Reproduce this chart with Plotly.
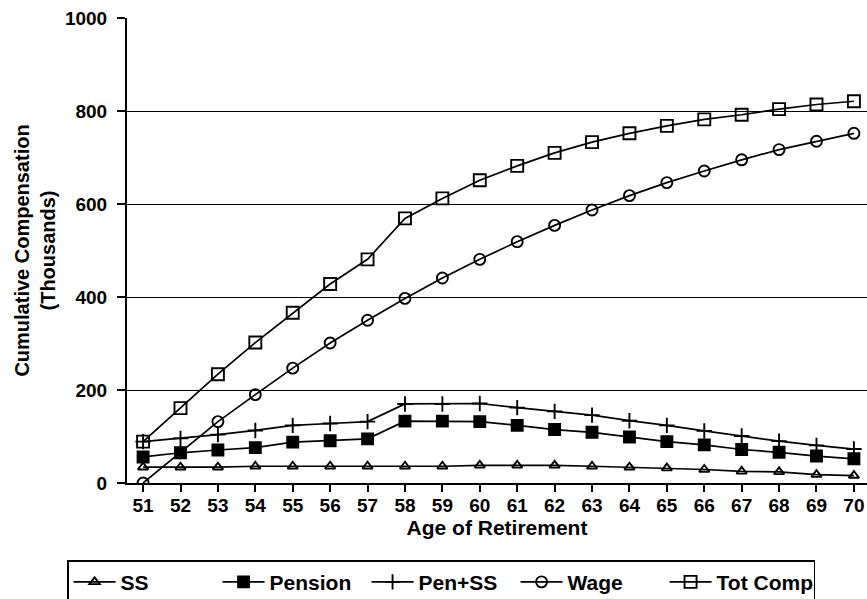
import plotly.graph_objects as go

ages = list(range(51, 71))
ss = [34, 34, 34, 36, 36, 36, 36, 36, 36, 38, 38, 38, 36, 34, 32, 29, 25, 24, 18, 16]
pension = [56, 65, 71, 76, 88, 91, 95, 133, 133, 132, 124, 115, 109, 99, 89, 82, 72, 66, 58, 52]
pen_ss = [89, 96, 104, 113, 124, 128, 132, 170, 170, 171, 162, 154, 146, 134, 124, 112, 101, 90, 81, 73]
wage = [0, 65, 132, 190, 247, 301, 350, 397, 441, 481, 519, 554, 587, 618, 646, 671, 695, 717, 735, 752]
tot_comp = [89, 161, 234, 302, 366, 428, 481, 569, 612, 651, 682, 710, 733, 752, 768, 782, 792, 804, 814, 821]
y_ticks = [0, 200, 400, 600, 800, 1000]

series_names = ["SS", "Pension", "Pen+SS", "Wage", "Tot Comp"]
series_vals = [ss, pension, pen_ss, wage, tot_comp]
symbols = ["triangle-up-open", "square", "cross-thin", "circle-open", "square-open"]
sizes = [9, 11, 11, 11, 12]

FONT = "Liberation Sans, Arial, sans-serif"

fig = go.Figure()
for name, vals, sym, sz in zip(series_names, series_vals, symbols, sizes):
    fig.add_trace(go.Scatter(
        x=ages, y=vals, name=name, mode="lines+markers",
        line=dict(color="black", width=1.7),
        marker=dict(symbol=sym, size=sz, color="black",
                    line=dict(color="black", width=1.9)),
    ))

fig.update_layout(
    width=867, height=599,
    margin=dict(l=127, r=0, t=18, b=116, autoexpand=False),
    paper_bgcolor="white", plot_bgcolor="white",
    font=dict(family=FONT, size=19, color="black", weight="bold"),
    showlegend=True,
    legend=dict(
        orientation="h", x=-0.081, xanchor="left", y=-0.166, yanchor="top",
        bordercolor="black", borderwidth=1.5, bgcolor="white",
        entrywidth=92, entrywidthmode="pixels",
        font=dict(family=FONT, size=21, color="black", weight="bold"),
        tracegroupgap=0, itemwidth=42,
    ),
)
fig.update_xaxes(
    range=[50.57, 70.35], tickmode="array", tickvals=ages,
    ticktext=[str(a) for a in ages],
    showgrid=False, zeroline=False,
    showline=True, linecolor="black", linewidth=2,
    ticks="outside", ticklen=7, tickwidth=1.5, tickcolor="black",
    ticklabelstandoff=-3,
    title=dict(text="Age of Retirement", standoff=2,
               font=dict(family=FONT, size=21, weight="bold")),
    tickfont=dict(family=FONT, size=19, weight="bold"),
    automargin=False,
)
fig.update_yaxes(
    range=[0, 1000], tickmode="array", tickvals=y_ticks,
    showgrid=True, gridcolor="black", gridwidth=1,
    zeroline=False,
    showline=True, linecolor="black", linewidth=2,
    ticks="outside", ticklen=8, tickwidth=1.5, tickcolor="black",
    ticklabelstandoff=6,
    title=dict(text="Cumulative Compensation<br>(Thousands)", standoff=4,
               font=dict(family=FONT, size=20, weight="bold")),
    tickfont=dict(family=FONT, size=19, weight="bold"),
    automargin=False,
)

fig.write_html("out.html", config={"displayModeBar": False},
               post_script="document.body.style.margin='0';")
